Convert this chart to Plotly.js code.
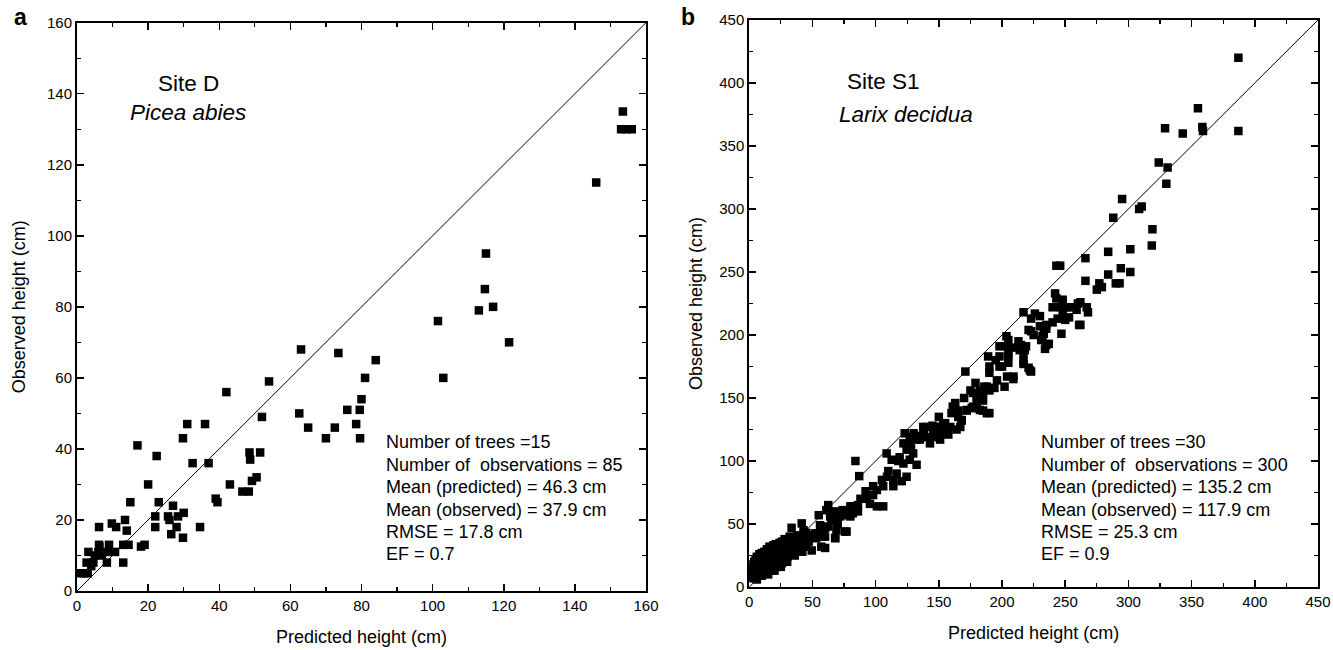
<!DOCTYPE html>
<html>
<head>
<meta charset="utf-8">
<script src="https://cdn.plot.ly/plotly-3.0.1.min.js"></script>
<style>html,body{margin:0;padding:0;background:#fff;}#chart{width:1333px;height:650px;}</style>
</head>
<body>
<div id="chart"></div>
<script>
// ---------- Panel a: Site D, Picea abies ----------
var predA = [63,73.5,84,81,80,79.5,76,78.5,79.6,72.5,
  70,65,62.5,54,52,42,51.5,48.5,48.7,50.5,
  49.2,46.5,48.3,43,39,39.5,37,36,31,29.8,
  32.5,17,22.4,20,15,23,27,30,28.4,25.6,
  22,26,22,28,26.5,29.8,34.6,13.5,14,9.8,
  11,6.2,14.5,13,18,19,13,8.4,6.2,9,
  10.7,8.5,6,5,3.2,4.6,2.7,2,1,3,
  6.3,153.5,153,154.5,156,146,115,114.7,113,117,
  121.5,101.5,103,4,7];
var obsA = [68,67,65,60,54,51,51,47,43,46,
  43,46,50,59,49,56,39,39,37,32,
  31,28,28,30,26,25,36,47,47,43,
  36,41,38,30,25,25,24,22,21,21,
  21,20,18,18,16,15,18,20,17,19,
  18,18,13,13,12.5,13,8,8,13,13,
  11,11,11,10,11,8,8,5,5,5,
  12.5,135,130,130,130,115,95,85,79,80,
  70,76,60,7,10];
var diagA = [0,160];
var statsA = ["Number of trees =15","Number of  observations = 85","Mean (predicted) = 46.3 cm","Mean (observed) = 37.9 cm","RMSE = 17.8 cm","EF = 0.7"];

// ---------- Panel b: Site S1, Larix decidua ----------
var predB = [387,387,355,329,343,358.5,359,324,331,330,
  295,288,308.5,310.5,319,318.5,301.5,284,284,294,
  301.5,290,293,279,266,243,246,266,277,275,
  242,243,248,246,251,248,250,260,259,267,
  268,262,247,240,244,217,226,223,221,223,
  235,233,237,234,215,218,214,205,204,205,
  198,189,190,198,217,222,171,179,175,180,
  196,204,209,194,202,186,190,185,180,178,
  161,160,163,172,176,180,185,190,168,167,
  150,148,153.5,159,157.5,140,138,130,146,151,
  135,127,122,253,255,262,248,261,230,235,
  232,235,231,203.5,205,219,217,217,221,223,
  200,209,198,
  84,87,33.5,41.5,43,55,62.5,61,65,68,
  64,69,72,56,58.5,62.5,52,53,60,57,
  69,77,68,82,86,93,98,95.5,101,106,
  109,114,116.6,114,120.6,124.5,106,101,74,77,
  80,82,86,108.7,112.7,119,122,124.5,127,129.7,
  132.4,123,127,132,137.7,140.3,143,145.6,151,148.3,
  153.5,161.4,165.4,164,168,172,177,182.5,188,177,
  182.5,188,49.4,50.6,58.5,60,68,75.7,54.6,
  1,1,2,2,3,4,4,5,5,6,
  6,7,7,8,8,9,9,10,10,11,
  11,12,12,13,13,14,14,15,15,16,
  16,17,17,18,18,19,19,20,20,21,
  21,22,22,23,23,24,24,25,25,26,
  26,27,27,28,28,29,29,30,30,31,
  31,32,32,33,34,35,36,37,38,39,
  40,41,42,43,44,45,46,47,20,30,
  36,42,15,25,
  3,5,7,9,11,13,15,17,19,21,
  23,25,27,29,31,33,35,37,39,41,
  43,45,2,6,10,14,18,22,26,30,
  34,38,44,3,5,8,12,16,20,24,
  28,32,
  190,195,210,230,240,225,205,213,185,170,
  165,155,145,135,128,118,110,105,98,92,
  88,80,75,70,65,60];
var obsB = [420,362,380,364,360,365,362,337,333,320,
  308,293,300,302,284,271,268,266,248,253,
  250,241,241,238,261,255,255,243,241,236,
  233,229,228,222,222,217,212,225,220,222,
  218,208,201,222,213,218,217,213,204,203,
  208,201,193,189,192,188,188,196,191,185,
  191,183,175,175,177,172,171,162,156,151,
  164,167,165,158,159,159,156,154,148,143,
  143,138,146,140,142,142,140,138,132,127,
  135,127,127,127,121,127,122,122,119,117,
  117,114,114,214,222,226,213,208,207,205,
  199,192,196,199,183,191,185,179,174,171,
  175,167,183,
  100,88,47,50.5,45,57,65,61,58.5,60,
  56,53,56,49,45,48,42.6,38.7,40,32,
  45,44,38.7,64,65,70,73,66,77,80,
  87.5,85,90,80,84,87.5,64,64,61,58.5,
  56,58.5,60,106,101,103,98,109,101,106,
  97,122,119,117,127,119,114,124.5,122,127,
  130,143,135,125,132.5,140.5,143,140.5,138,154,
  156,159,29,40,40,31,39,44,42.6,
  10,18,14,12,8,15,20,10,17,13,
  24,9,19,15,26,12,21,17,27,14,
  23,19,28,16,25,21,30,18,26,23,
  32,20,29,16,25,22,33,19,28,24,
  34,21,30,26,18,23,33,28,20,25,
  36,30,22,27,38,32,24,29,37,26,
  34,31,40,28,35,30,38,33,41,36,
  31,39,35,42,37,33,41,36,13,20,
  25,28,10,16,
  12,22,15,17,19,21,23,24,26,27,
  29,31,33,35,30,36,34,38,40,36,
  39,43,7,6,9,12,13,16,19,24,
  27,30,32,16,14,19,23,27,31,35,
  30,33,
  170,180,190,215,210,200,178,195,148,150,
  140,130,128,120,110,100,92,85,80,76,
  70,64,57,50,52,47];
var diagB = [0,450];
var statsB = ["Number of trees =30","Number of  observations = 300","Mean (predicted) = 135.2 cm","Mean (observed) = 117.9 cm","RMSE = 25.3 cm","EF = 0.9"];

var FONT = 'Liberation Sans, Arial, Helvetica, sans-serif';

function axis(domain, range, dtick, minorDtick, anchor, title, standoff) {
  return {
    domain: domain, range: range, tick0: 0, dtick: dtick, anchor: anchor,
    ticks: 'inside', ticklen: 7, tickwidth: 1.5, tickcolor: '#000',
    showline: true, linewidth: 2, linecolor: '#000', mirror: 'ticks',
    showgrid: false, zeroline: false, fixedrange: true,
    minor: {dtick: minorDtick, tick0: 0, ticks: 'inside', ticklen: 4, tickwidth: 1.2, tickcolor: '#000', showgrid: false},
    tickfont: {family: FONT, size: 15, color: '#000'},
    title: {text: title, font: {family: FONT, size: 18, color: '#000'}, standoff: standoff}
  };
}

var traces = [
  {x: diagA, y: diagA, mode: 'lines', line: {color: '#000', width: 1}, xaxis: 'x', yaxis: 'y', hoverinfo: 'skip', showlegend: false},
  {x: predA, y: obsA, mode: 'markers', marker: {symbol: 'square', size: 8.5, color: '#000'}, xaxis: 'x', yaxis: 'y', showlegend: false},
  {x: diagB, y: diagB, mode: 'lines', line: {color: '#000', width: 1}, xaxis: 'x2', yaxis: 'y2', hoverinfo: 'skip', showlegend: false},
  {x: predB, y: obsB, mode: 'markers', marker: {symbol: 'square', size: 8.5, color: '#000'}, xaxis: 'x2', yaxis: 'y2', showlegend: false}
];

var ann = [];
function txt(xref, yref, x, y, text, size, opts) {
  var a = {xref: xref, yref: yref, x: x, y: y, text: text, showarrow: false,
    xanchor: 'left', yanchor: 'middle', font: {family: FONT, size: size, color: '#000'}};
  for (var k in (opts || {})) a[k] = opts[k];
  ann.push(a);
}
var rowsA = [41.9, 35.6, 29.3, 22.9, 16.6, 10.3];
var rowsB = [115.1, 97.2, 79.4, 61.5, 43.7, 25.8];
statsA.forEach(function (s, i) { txt('x', 'y', 86.2, rowsA[i], s, 18); });
statsB.forEach(function (s, i) { txt('x2', 'y2', 229.5, rowsB[i], s, 18); });
txt('x', 'y', 22.3, 143, 'Site D', 22.5);
txt('x', 'y', 14.3, 134.6, '<i>Picea abies</i>', 22.5);
txt('x2', 'y2', 75.5, 400.8, 'Site S1', 22.5);
txt('x2', 'y2', 69.2, 375.4, '<i>Larix decidua</i>', 22.5);
txt('paper', 'paper', -0.0459, 1.0053, '<b>a</b>', 23, {xanchor: 'center'});
txt('paper', 'paper', 0.4923, 1.0053, '<b>b</b>', 23, {xanchor: 'center'});

var layout = {
  width: 1333, height: 650,
  margin: {l: 77, r: 15, t: 20, b: 59},
  paper_bgcolor: '#fff', plot_bgcolor: '#fff',
  font: {family: FONT, color: '#000'},
  showlegend: false,
  xaxis: axis([0, 0.4585], [0, 160], 20, 10, 'y', 'Predicted height (cm)', 17),
  yaxis: axis([0, 0.9953], [0, 160], 20, 10, 'x', 'Observed height (cm)', 17),
  xaxis2: axis([0.5417, 1], [0, 450], 50, 25, 'y2', 'Predicted height (cm)', 17),
  yaxis2: axis([0.007, 1], [0, 450], 50, 25, 'x2', 'Observed height (cm)', 12),
  annotations: ann
};

Plotly.newPlot('chart', traces, layout, {staticPlot: true, displayModeBar: false});
</script>
</body>
</html>
